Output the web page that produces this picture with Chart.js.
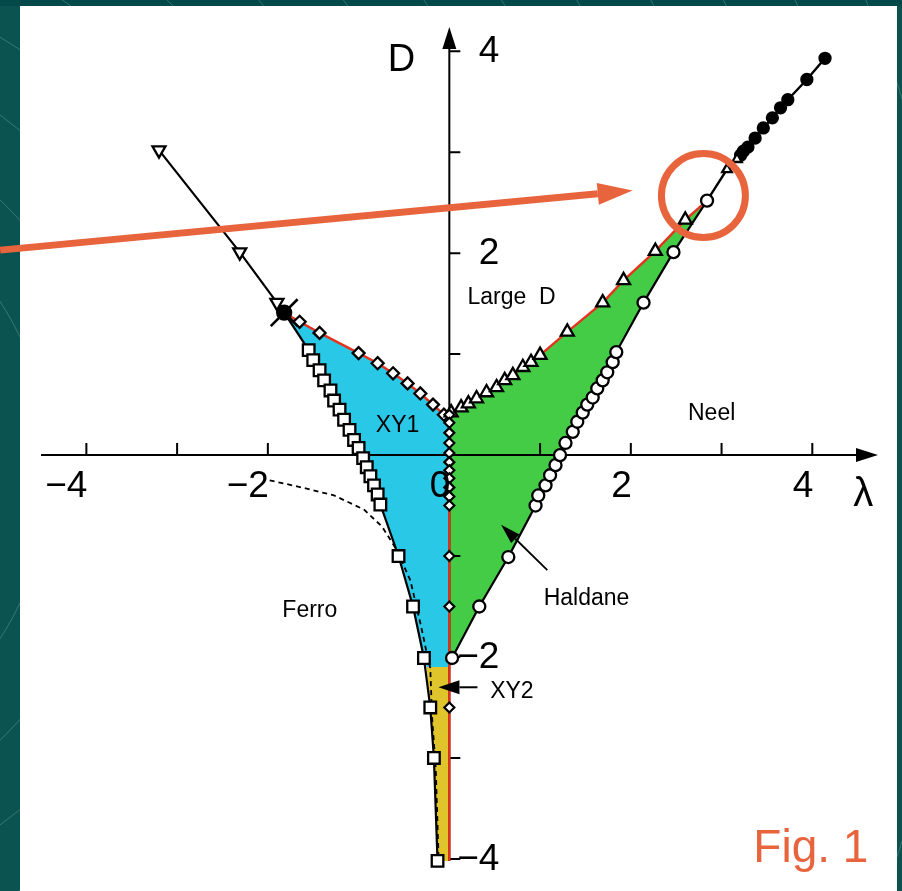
<!DOCTYPE html>
<html>
<head>
<meta charset="utf-8">
<title>Phase diagram</title>
<script src="https://cdn.jsdelivr.net/npm/chart.js@4.4.0/dist/chart.umd.min.js"></script>
<style>
    html, body { margin: 0; padding: 0; background: #0b5350; overflow: hidden; }
    #wrap { width: 902px; height: 891px; }
</style>
</head>
<body>
<div id="wrap"><canvas id="phaseChart" width="902" height="891"></canvas></div>
<script>
// Phase diagram in the (lambda, D) plane

// Axis ticks and labels
const lambdaTicks = [-4, -3, -2, -1, 1, 2, 3, 4];
const lambdaLabels = [-4, -2, 0, 2, 4];
const dTicks = [-4, -3, -2, -1, 1, 2, 3, 4];
const dLabels = [4, 2, -2, -4];

// Boundary data, pairs of [lambda, D]
const leftTriangles = [[-3.20, 3.02], [-2.31, 2.01], [-1.90, 1.51]];
const tricritical = [[-1.82, 1.41]];
const xy1Diamonds = [[-1.65, 1.32], [-1.43, 1.21], [-1.00, 1.01], [-0.79, 0.91], [-0.62, 0.81],
    [-0.46, 0.71], [-0.32, 0.61], [-0.18, 0.50], [-0.06, 0.40]];
const ferroSquares = [[-1.55, 1.04], [-1.50, 0.94], [-1.43, 0.84], [-1.38, 0.74], [-1.31, 0.64],
    [-1.27, 0.54], [-1.21, 0.45], [-1.16, 0.35], [-1.10, 0.25], [-1.05, 0.15], [-1.00, 0.07],
    [-0.95, -0.03], [-0.91, -0.12], [-0.87, -0.21], [-0.83, -0.30], [-0.79, -0.39], [-0.76, -0.49],
    [-0.56, -1.00], [-0.40, -1.50], [-0.28, -2.01], [-0.21, -2.50], [-0.17, -3.00], [-0.13, -4.02]];
const ferroDashed = [[-1.98, -0.25], [-1.63, -0.32], [-1.27, -0.40], [-0.94, -0.54], [-0.74, -0.71],
    [-0.58, -0.94], [-0.43, -1.24], [-0.31, -1.70], [-0.24, -2.00], [-0.21, -2.11], [-0.19, -2.60],
    [-0.15, -3.10], [-0.12, -3.95]];
const axisDiamonds = [[0, 0.40], [0, 0.32], [0, 0.22], [0, 0.12], [0, 0.02], [0, -0.07], [0, -0.15],
    [0, -0.23], [0, -0.32], [0, -0.41], [0, -0.50], [0, -1.00], [0, -1.50], [0, -2.50]];
const largeDTriangles = [[0.02, 0.42], [0.13, 0.47], [0.21, 0.51], [0.30, 0.56], [0.41, 0.62],
    [0.52, 0.67], [0.61, 0.74], [0.70, 0.79], [0.81, 0.87], [0.90, 0.92], [1.00, 0.99], [1.30, 1.22],
    [1.69, 1.51], [1.92, 1.73], [2.27, 2.02], [2.60, 2.33]];
const haldaneCircles = [[0.03, -2.01], [0.33, -1.50], [0.65, -1.01], [0.95, -0.50], [0.98, -0.40],
    [1.06, -0.30], [1.11, -0.20], [1.17, -0.10], [1.22, 0.00], [1.28, 0.12], [1.36, 0.23],
    [1.41, 0.33], [1.47, 0.42], [1.52, 0.50], [1.58, 0.57], [1.63, 0.66], [1.69, 0.74], [1.74, 0.82],
    [1.80, 0.92], [1.84, 1.02], [2.14, 1.51], [2.47, 2.01], [2.84, 2.52]];
const upperTriangles = [[3.06, 2.83], [3.17, 2.93]];
const neelDots = [[3.21, 2.97], [3.24, 3.01], [3.29, 3.05], [3.37, 3.14], [3.46, 3.24], [3.56, 3.34],
    [3.65, 3.44], [3.73, 3.52], [3.94, 3.72], [4.14, 3.93]];

const pts = arr => arr.map(([x, y]) => ({ x, y }));
const last = arr => arr[arr.length - 1];

// Polygons for the coloured phases, built from the boundaries
const xy1Top = [0, 0.38];
const xy1Bottom = [[0, -2.10], [-0.25, -2.10]];
const xy1Polygon = [...tricritical, ...xy1Diamonds, xy1Top, ...xy1Bottom,
    ...ferroSquares.filter(p => p[1] > -2.1).reverse()];
const xy2Polygon = [[-0.25, -2.10], ...ferroSquares.filter(p => p[1] < -2.1), [0, -4.02], [0, -2.10]];
const haldanePolygon = [xy1Top, ...largeDTriangles, ...haldaneCircles.slice().reverse(), [0, -2.02]];

const BLACK = '#000000';
const RED = '#e5331f';
const ORANGE = '#e8643c';
const FONT = '"Liberation Sans", Arial, Helvetica, sans-serif';

function markers(data, style, radius, fill, rotation, border) {
    return {
        data: pts(data),
        showLine: false,
        pointStyle: style,
        pointRadius: radius,
        pointRotation: rotation || 0,
        pointBackgroundColor: fill,
        pointBorderColor: BLACK,
        pointBorderWidth: border || 2.3,
        clip: false,
        order: 1
    };
}

function path(data, color, width, dash) {
    return {
        data: pts(data),
        showLine: true,
        borderColor: color,
        borderWidth: width,
        borderDash: dash || [],
        pointRadius: 0,
        fill: false,
        clip: false,
        order: 2
    };
}

function region(data, color) {
    return {
        data: pts(data),
        showLine: true,
        borderWidth: 0,
        borderColor: 'rgba(0,0,0,0)',
        backgroundColor: color,
        pointRadius: 0,
        fill: 'shape',
        order: 3
    };
}

const datasets = [
    markers(axisDiamonds, 'rectRot', 5, '#ffffff', 0, 2.2),
    markers(haldaneCircles, 'circle', 6, '#ffffff'),
    markers(ferroSquares, 'rect', 8.2, '#ffffff'),
    markers(largeDTriangles, 'triangle', 7.5, '#ffffff'),
    markers(upperTriangles, 'triangle', 5.5, '#ffffff'),
    markers(xy1Diamonds, 'rectRot', 6, '#ffffff'),
    markers(leftTriangles, 'triangle', 7.5, '#ffffff', 180),
    markers(neelDots, 'circle', 5.5, BLACK),
    markers(tricritical, 'circle', 7, BLACK),
    markers(tricritical, 'crossRot', 19, BLACK, 0, 2.6),
    path([...tricritical, ...xy1Diamonds, xy1Top], RED, 2.4),
    path([xy1Top, ...largeDTriangles, last(haldaneCircles)], RED, 2.4),
    path([xy1Top, [0, -4.02]], RED, 2.4),
    path([...leftTriangles, ...tricritical], BLACK, 2.2),
    path([...tricritical, ...ferroSquares], BLACK, 2.2),
    path(haldaneCircles, BLACK, 2.2),
    path([last(haldaneCircles), ...upperTriangles, ...neelDots], BLACK, 2.4),
    path(ferroDashed, BLACK, 1.8, [5, 4]),
    region(xy1Polygon, '#29c8e6'),
    region(haldanePolygon, '#45cc46'),
    region(xy2Polygon, '#dfc42b')
];

// Region names and arrows, placed in data coordinates
const regionLabels = [
    { text: 'Large  D', at: [0.20, 1.50] },
    { text: 'XY1', at: [-0.81, 0.23] },
    { text: 'Neel', at: [2.63, 0.35] },
    { text: 'Ferro', at: [-1.84, -1.60] },
    { text: 'Haldane', at: [1.04, -1.49] },
    { text: 'XY2', at: [0.45, -2.41] }
];

function arrow(ctx, x1, y1, x2, y2, headLen, headHalf, width, color) {
    const ang = Math.atan2(y2 - y1, x2 - x1);
    const bx = x2 - headLen * Math.cos(ang);
    const by = y2 - headLen * Math.sin(ang);
    ctx.strokeStyle = color;
    ctx.fillStyle = color;
    ctx.lineWidth = width;
    ctx.beginPath();
    ctx.moveTo(x1, y1);
    ctx.lineTo(bx, by);
    ctx.stroke();
    ctx.beginPath();
    ctx.moveTo(x2, y2);
    ctx.lineTo(bx + headHalf * Math.sin(ang), by - headHalf * Math.cos(ang));
    ctx.lineTo(bx - headHalf * Math.sin(ang), by + headHalf * Math.cos(ang));
    ctx.closePath();
    ctx.fill();
}

const slidePlugin = {
    id: 'slideDecor',
    beforeDraw(chart) {
        const { ctx, width, height } = chart;
        ctx.save();
        ctx.fillStyle = '#0b5350';
        ctx.fillRect(0, 0, width, height);
        ctx.fillStyle = '#03494a';
        ctx.fillRect(0, 0, width, 6);
        // faint arcs of the slide template
        ctx.strokeStyle = 'rgba(150, 210, 200, 0.3)';
        ctx.lineWidth = 1;
        for (let r = 180; r < 1300; r += 65) {
            ctx.beginPath();
            ctx.arc(-260, 470, r, 0, Math.PI * 2);
            ctx.stroke();
        }
        ctx.fillStyle = '#ffffff';
        ctx.fillRect(20, 6, 877, height - 6);
        ctx.restore();
    },
    beforeDatasetsDraw(chart) {
        // axes go above the coloured phases but under the data
        const { ctx, scales: { x, y } } = chart;
        const x0 = x.getPixelForValue(0);
        const y0 = y.getPixelForValue(0);
        ctx.save();
        ctx.strokeStyle = BLACK;
        ctx.lineWidth = 2;
        ctx.beginPath();
        ctx.moveTo(x.left, y0);
        ctx.lineTo(x.right - 20, y0);
        lambdaTicks.forEach(v => {
            const px = x.getPixelForValue(v);
            ctx.moveTo(px, y0);
            ctx.lineTo(px, y0 - 12);
        });
        ctx.moveTo(x0, y.getPixelForValue(-4.02));
        ctx.lineTo(x0, y.top + 20);
        dTicks.forEach(v => {
            const py = y.getPixelForValue(v);
            ctx.moveTo(x0, py);
            ctx.lineTo(x0 + 11, py);
        });
        ctx.stroke();
        arrow(ctx, x.right - 22, y0, x.right - 1, y0, 22, 7, 2, BLACK);
        arrow(ctx, x0, y.top + 22, x0, y.top + 1, 22, 7, 2, BLACK);
        ctx.restore();
    },
    afterDatasetsDraw(chart) {
        const { ctx, scales: { x, y } } = chart;
        const px = v => x.getPixelForValue(v);
        const py = v => y.getPixelForValue(v);
        const x0 = px(0);
        const y0 = py(0);
        const fmt = v => (v < 0 ? '\u2212' + Math.abs(v) : String(v));
        ctx.save();
        ctx.fillStyle = BLACK;

        // tick labels
        ctx.font = '37px ' + FONT;
        ctx.textAlign = 'right';
        ctx.textBaseline = 'alphabetic';
        lambdaLabels.forEach(v => ctx.fillText(fmt(v), px(v) + 1, y0 + 42));
        ctx.textBaseline = 'middle';
        dLabels.forEach(v => ctx.fillText(fmt(v), x0 + 50, py(v) + 1));

        // axis titles
        ctx.textAlign = 'left';
        ctx.textBaseline = 'alphabetic';
        ctx.font = '38px ' + FONT;
        ctx.fillText('D', px(-0.68), py(3.80));
        ctx.font = '40px ' + FONT;
        ctx.fillText('\u03bb', px(4.45), py(-0.50));

        // phase names
        ctx.font = '23px ' + FONT;
        regionLabels.forEach(l => ctx.fillText(l.text, px(l.at[0]), py(l.at[1])));

        // pointers to the Haldane and XY2 phases
        arrow(ctx, px(1.08), py(-1.14), px(0.57), py(-0.69), 20, 6, 1.8, BLACK);
        arrow(ctx, px(0.31), py(-2.30), px(-0.12), py(-2.30), 21, 7, 2, BLACK);

        // slide annotation: arrow and circle
        arrow(ctx, px(-4.95), py(2.03), px(2.02), py(2.62), 35, 11, 7, ORANGE);
        ctx.strokeStyle = ORANGE;
        ctx.lineWidth = 7;
        ctx.beginPath();
        ctx.arc(px(2.80), py(2.57), 42, 0, Math.PI * 2);
        ctx.stroke();

        ctx.fillStyle = ORANGE;
        ctx.font = '46px ' + FONT;
        ctx.fillText('Fig. 1', px(3.35), py(-4.03));
        ctx.restore();
    }
};

const phaseChart = new Chart(document.getElementById('phaseChart').getContext('2d'), {
    type: 'scatter',
    data: { datasets },
    options: {
        responsive: false,
        animation: false,
        events: [],
        layout: { autoPadding: false, padding: { left: 41, right: 23, top: 26, bottom: 22 } },
        elements: { line: { tension: 0 } },
        scales: {
            x: { type: 'linear', display: false, min: -4.5, max: 4.735 },
            y: { type: 'linear', display: false, min: -4.1, max: 4.25 }
        },
        plugins: {
            legend: { display: false },
            tooltip: { enabled: false },
            filler: { drawTime: 'beforeDatasetsDraw' }
        }
    },
    plugins: [slidePlugin]
});
</script>
</body>
</html>
